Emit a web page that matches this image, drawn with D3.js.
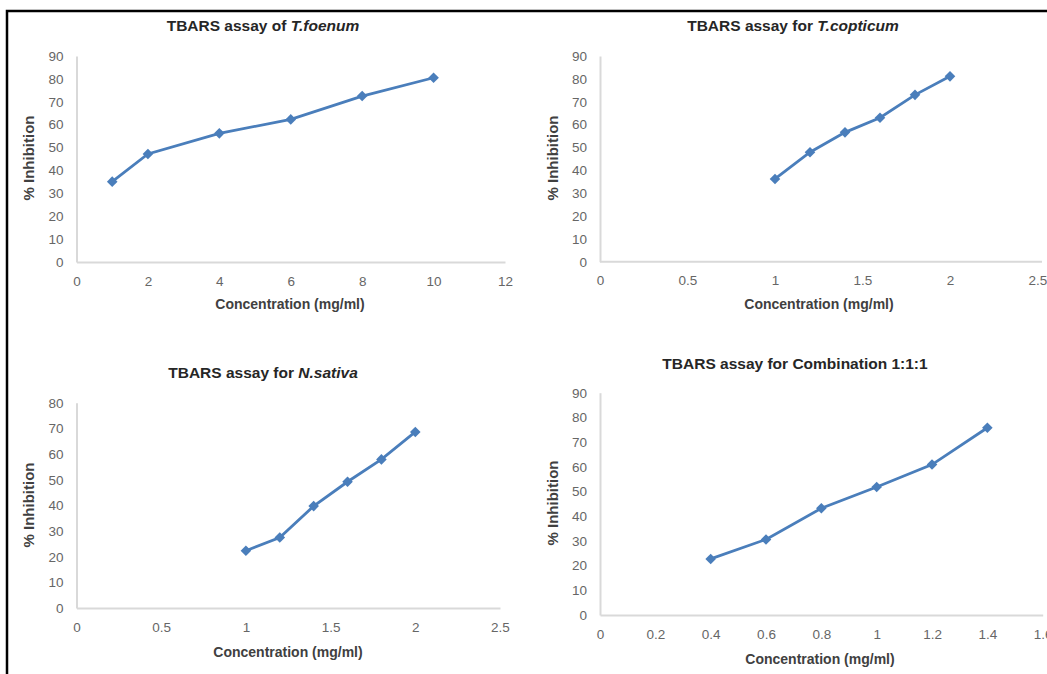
<!DOCTYPE html>
<html>
<head>
<meta charset="utf-8">
<script src="https://cdn.jsdelivr.net/npm/d3@7"></script>
<style>
  body { margin: 0; background: #fff; }
  svg { display: block; }
</style>
</head>
<body>
<div id="chart"></div>
<script>
// TBARS assay panels: concentration (mg/ml) vs % inhibition

const foenumConc = [1, 2, 4, 6, 8, 10]
const foenumInhib = [35.1, 47.2, 56.2, 62.3, 72.5, 80.5]
const foenumXTicks = [0, 2, 4, 6, 8, 10, 12]

const copticumConc = [1, 1.2, 1.4, 1.6, 1.8, 2]
const copticumInhib = [36.2, 47.9, 56.6, 63.0, 73.0, 81.1]
const copticumXTicks = [0, 0.5, 1, 1.5, 2, 2.5]

const sativaConc = [1, 1.2, 1.4, 1.6, 1.8, 2]
const sativaInhib = [22.3, 27.5, 39.7, 49.2, 57.9, 68.6]
const sativaXTicks = [0, 0.5, 1, 1.5, 2, 2.5]

const comboConc = [0.4, 0.6, 0.8, 1, 1.2, 1.4]
const comboInhib = [22.7, 30.6, 43.2, 51.8, 60.9, 75.8]
const comboXTicks = [0, 0.2, 0.4, 0.6, 0.8, 1, 1.2, 1.4, 1.6]

const yTicks90 = [0, 10, 20, 30, 40, 50, 60, 70, 80, 90]
const yTicks80 = [0, 10, 20, 30, 40, 50, 60, 70, 80]

const xLabel = "Concentration (mg/ml)"
const yLabel = "% Inhibition"

let width = 1047
let height = 674
let lineColor = "#4a7ebb"
let axisColor = "#d9d9d9"
let tickColor = "#666666"
let font = "'Liberation Sans', Arial, sans-serif"

var svg = d3.select("#chart")
    .append("svg")
    .attr("width", width)
    .attr("height", height)

// outer frame (cut off on right and bottom like the source image)
svg.append("path")
    .attr("d", "M7,680 V11 H1060")
    .attr("fill", "none")
    .attr("stroke", "#000")
    .attr("stroke-width", 2.5)

function renderPanel(p) {
    var x = d3.scaleLinear().domain([0, d3.max(p.xTicks)]).range([p.left, p.right])
    var y = d3.scaleLinear().domain([0, d3.max(p.yTicks)]).range([p.bottom, p.top])

    var g = svg.append("g")

    g.append("g")
        .attr("transform", "translate(" + p.left + ",0)")
        .call(d3.axisLeft(y).tickValues(p.yTicks).tickSize(0).tickPadding(13))
    var xAxis = g.append("g")
        .attr("transform", "translate(0," + p.bottom + ")")
        .call(d3.axisBottom(x).tickValues(p.xTicks).tickSize(0).tickPadding(14)
            .tickFormat(function (d) { return d3.format("~g")(d) }))

    g.selectAll(".domain")
        .attr("stroke", axisColor)
        .attr("stroke-width", 2)
    g.selectAll(".tick text")
        .attr("fill", tickColor)
        .style("font-family", font)
        .style("font-size", "13.5px")

    if (p.axisEnd) {
        xAxis.select(".domain").attr("d", "M" + p.left + ",0H" + p.axisEnd)
    }

    var pts = p.xs.map(function (v, i) { return [v, p.ys[i]] })

    var line = d3.line()
        .x(function (d) { return x(d[0]) })
        .y(function (d) { return y(d[1]) })

    g.append("path")
        .datum(pts)
        .attr("d", line)
        .attr("fill", "none")
        .attr("stroke", lineColor)
        .attr("stroke-width", 2.8)

    g.selectAll("marks")
        .data(pts)
        .enter()
        .append("path")
        .attr("d", d3.symbol(d3.symbolSquare, 56))
        .attr("transform", function (d) { return "translate(" + x(d[0]) + "," + y(d[1]) + ") rotate(45)" })
        .attr("fill", lineColor)

    var title = g.append("text")
        .attr("x", p.titleX)
        .attr("y", p.titleY)
        .attr("text-anchor", "middle")
        .style("font-family", font)
        .style("font-size", "15.5px")
        .style("font-weight", "bold")
        .attr("fill", "#262626")
    title.append("tspan").text(p.title)
    if (p.species) {
        title.append("tspan").style("font-style", "italic").text(p.species)
    }

    g.append("text")
        .attr("x", p.xLabelX)
        .attr("y", p.xLabelY)
        .attr("text-anchor", "middle")
        .style("font-family", font)
        .style("font-size", "14px")
        .style("font-weight", "bold")
        .attr("fill", "#404040")
        .text(xLabel)

    g.append("text")
        .attr("transform", "translate(" + p.yLabelX + "," + p.yLabelY + ") rotate(-90)")
        .attr("text-anchor", "middle")
        .style("font-family", font)
        .style("font-size", "15px")
        .style("font-weight", "bold")
        .attr("fill", "#404040")
        .text(yLabel)
}

document.addEventListener('DOMContentLoaded', drawAll, false)

function drawAll() {
    renderPanel({
        xs: foenumConc, ys: foenumInhib, xTicks: foenumXTicks, yTicks: yTicks90,
        left: 76.5, right: 505, top: 56, bottom: 262,
        title: "TBARS assay of ", species: "T.foenum", titleX: 263, titleY: 31,
        xLabelX: 290, xLabelY: 309, yLabelX: 34, yLabelY: 158
    })
    renderPanel({
        xs: copticumConc, ys: copticumInhib, xTicks: copticumXTicks, yTicks: yTicks90,
        left: 600, right: 1037.5, top: 56, bottom: 261.7, axisEnd: 1042,
        title: "TBARS assay for ", species: "T.copticum", titleX: 793, titleY: 31,
        xLabelX: 819, xLabelY: 309, yLabelX: 558, yLabelY: 158
    })
    renderPanel({
        xs: sativaConc, ys: sativaInhib, xTicks: sativaXTicks, yTicks: yTicks80,
        left: 76.5, right: 500, top: 402.7, bottom: 608,
        title: "TBARS assay for ", species: "N.sativa", titleX: 263, titleY: 378,
        xLabelX: 288, xLabelY: 657, yLabelX: 34, yLabelY: 505
    })
    renderPanel({
        xs: comboConc, ys: comboInhib, xTicks: comboXTicks, yTicks: yTicks90,
        left: 600, right: 1042.7, top: 392.7, bottom: 615,
        title: "TBARS assay for Combination 1:1:1", species: null, titleX: 795, titleY: 369,
        xLabelX: 820, xLabelY: 664, yLabelX: 558, yLabelY: 503
    })
}
</script>
</body>
</html>
